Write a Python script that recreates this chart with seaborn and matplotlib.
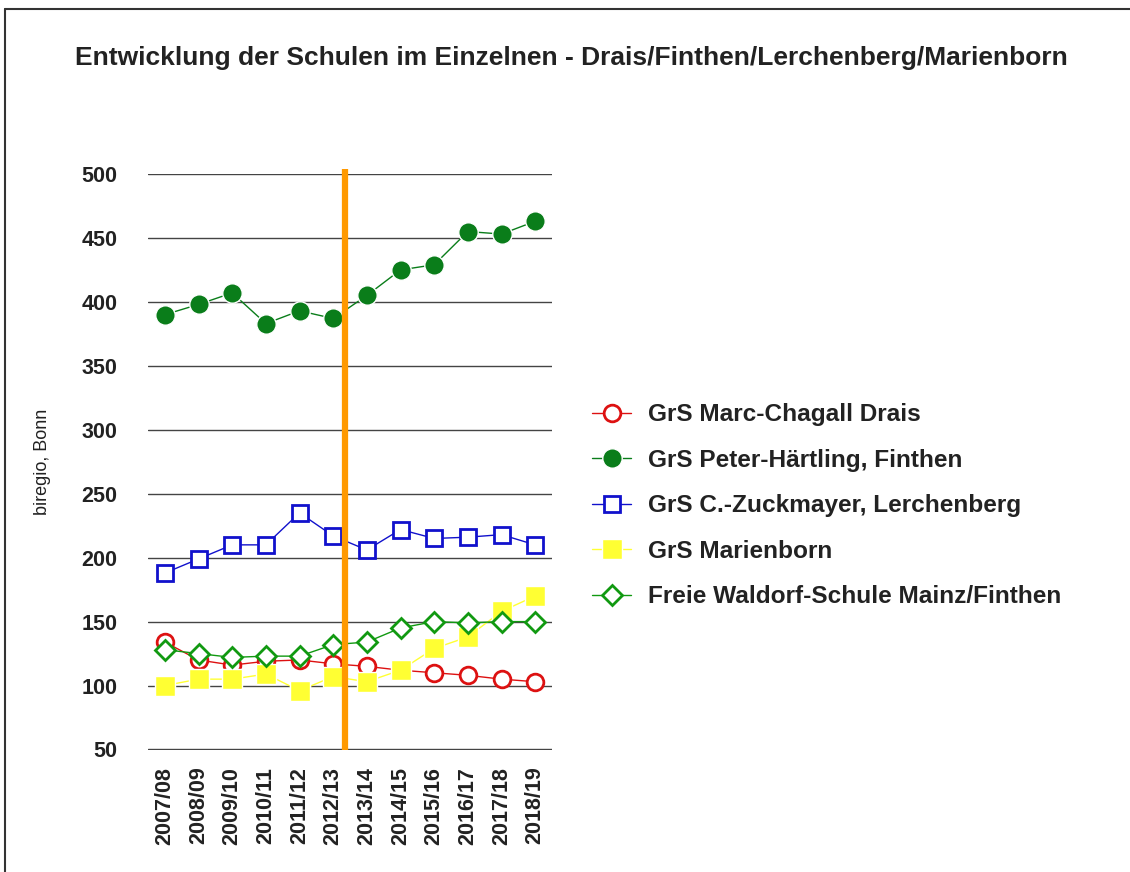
import seaborn as sns
import matplotlib.pyplot as plt
from matplotlib.lines import Line2D
import pandas as pd

# Schuljahre und Schülerzahlen je Grundschule
jahre = ['2007/08', '2008/09', '2009/10', '2010/11', '2011/12', '2012/13',
         '2013/14', '2014/15', '2015/16', '2016/17', '2017/18', '2018/19']

marc_chagall = [134, 120, 116, 119, 120, 117, 115, 112, 110, 108, 105, 103]
peter_haertling = [390, 398, 407, 383, 393, 387, 405, 425, 429, 455, 453, 463]
zuckmayer = [188, 199, 210, 210, 235, 217, 206, 222, 215, 216, 218, 210]
marienborn = [100, 105, 105, 109, 96, 107, 103, 112, 129, 138, 158, 170]
waldorf = [128, 125, 122, 123, 123, 132, 134, 145, 150, 149, 150, 150]

namen = ['GrS Marc-Chagall Drais', 'GrS Peter-Härtling, Finthen',
         'GrS C.-Zuckmayer, Lerchenberg', 'GrS Marienborn',
         'Freie Waldorf-Schule Mainz/Finthen']

# Trennlinie zwischen 2012/13 und 2013/14
trenn_pos = 5.35

if __name__ == '__main__':
    sns.set_theme(style="white")
    plt.rcParams['font.family'] = ['Liberation Sans', 'DejaVu Sans']

    df = pd.DataFrame({'jahr': jahre,
                       namen[0]: marc_chagall,
                       namen[1]: peter_haertling,
                       namen[2]: zuckmayer,
                       namen[3]: marienborn,
                       namen[4]: waldorf})
    df['pos'] = range(len(jahre))

    # style per series: line colour, marker, face colour, edge colour, size, edge width
    styles = {
        namen[0]: dict(color='#dd1111', marker='o', mfc='white', mec='#dd1111', ms=12, mew=2),
        namen[1]: dict(color='#0a7d1a', marker='o', mfc='#0a7d1a', mec='white', ms=14, mew=1),
        namen[2]: dict(color='#1111cc', marker='s', mfc='white', mec='#1111cc', ms=12, mew=2),
        namen[3]: dict(color='#ffff33', marker='s', mfc='#ffff33', mec='white', ms=14, mew=1),
        namen[4]: dict(color='#119911', marker='D', mfc='white', mec='#119911', ms=10, mew=2),
    }

    fig = plt.figure(figsize=(11.3, 8.72), dpi=100)
    ax = fig.add_axes([0.131, 0.1399, 0.3575, 0.6606])

    for name in namen:
        st = styles[name]
        sns.lineplot(data=df, x='pos', y=name, ax=ax, color=st['color'], linewidth=1,
                     marker=st['marker'], markerfacecolor=st['mfc'],
                     markeredgecolor=st['mec'], markersize=st['ms'],
                     markeredgewidth=st['mew'], zorder=3)

    ax.axvline(trenn_pos, ymin=0, ymax=1.008, color='#ff9900', linewidth=4.5,
               solid_capstyle='butt', clip_on=False, zorder=4)

    ax.set_xlim(-0.5, len(jahre) - 0.5)
    ax.set_ylim(49.6, 500)
    ax.set_yticks(range(50, 501, 50))
    ax.set_xticks(range(len(jahre)))
    ax.set_xticklabels(jahre, rotation=90, fontsize=15.5, fontweight='bold', color='#222222')
    for lab in ax.get_yticklabels():
        lab.set_fontsize(15.5)
        lab.set_fontweight('bold')
        lab.set_color('#222222')
    ax.tick_params(axis='y', length=0, pad=22)
    ax.tick_params(axis='x', length=0, pad=12)
    ax.yaxis.grid(True, color='#444444', linewidth=1)
    ax.xaxis.grid(False)
    for sp in ax.spines.values():
        sp.set_visible(False)
    ax.set_xlabel('')
    ax.set_ylabel('biregio, Bonn', fontsize=13, color='#222222', labelpad=22)

    handles = []
    for name in namen:
        st = styles[name]
        handles.append(Line2D([], [], color=st['color'], linewidth=1, marker=st['marker'],
                              markerfacecolor=st['mfc'], markeredgecolor=st['mec'],
                              markersize=st['ms'], markeredgewidth=st['mew']))
    fig.legend(handles, namen, loc='center left', bbox_to_anchor=(0.524, 0.42),
               frameon=False, prop={'size': 17.6, 'weight': 'bold'},
               labelspacing=0.92, handlelength=1.6, handletextpad=0.7,
               borderpad=0, borderaxespad=0, labelcolor='#222222')

    fig.text(0.506, 0.933, 'Entwicklung der Schulen im Einzelnen - Drais/Finthen/Lerchenberg/Marienborn',
             ha='center', va='center', fontsize=19, fontweight='bold', color='#222222')

    # Rahmen oben und links
    fig.add_artist(Line2D([0.0045, 1.0], [0.9897, 0.9897], color='#333333', linewidth=1.5,
                          transform=fig.transFigure))
    fig.add_artist(Line2D([0.0045, 0.0045], [0.0, 0.9897], color='#333333', linewidth=1.5,
                          transform=fig.transFigure))

    fig.savefig('out.png', dpi=100, facecolor='white')
